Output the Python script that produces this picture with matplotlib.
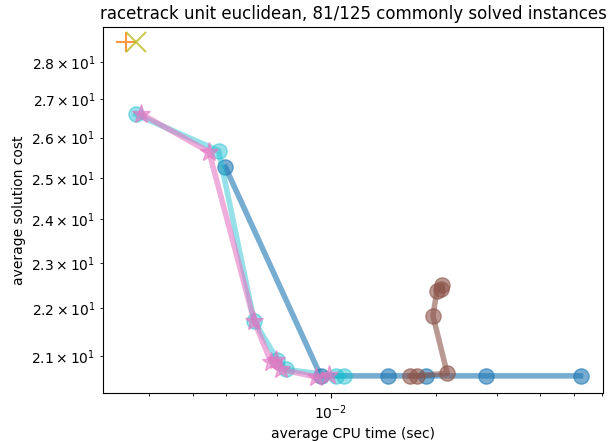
import matplotlib
matplotlib.use("Agg")
import matplotlib.pyplot as plt

title = "racetrack unit euclidean, 81/125 commonly solved instances"

# average CPU time (sec) / average solution cost for each solver setting
blue_t = [4.97e-3, 9.34e-3, 1.463e-2, 1.879e-2, 2.795e-2, 5.22e-2]
blue_c = [25.26, 20.59, 20.59, 20.59, 20.59, 20.59]

orange_t = [2.57e-3]
orange_c = [28.56]

brown_t = [2.071e-2, 2.092e-2, 2.017e-2, 1.964e-2, 2.159e-2, 1.766e-2, 1.687e-2]
brown_c = [22.42, 22.50, 22.38, 21.84, 20.64, 20.59, 20.59]

olive_t = [2.747e-3]
olive_c = [28.56]

cyan_t = [2.747e-3, 4.75e-3, 6.01e-3, 7.01e-3, 7.41e-3, 1.032e-2, 1.090e-2]
cyan_c = [26.60, 25.67, 21.73, 20.92, 20.72, 20.59, 20.59]

pink_t = [2.838e-3, 4.46e-3, 6.01e-3, 6.71e-3, 6.95e-3, 7.18e-3, 9.04e-3, 9.87e-3]
pink_c = [26.62, 25.64, 21.73, 20.88, 20.92, 20.72, 20.57, 20.60]

fig = plt.figure(figsize=(6.1, 4.41), dpi=100)
ax = fig.add_axes([0.169, 0.108, 0.82, 0.831])

ax.plot(blue_t, blue_c, color="tab:blue", marker="o", markersize=11, linewidth=4, alpha=0.6)
ax.plot(orange_t, orange_c, color="tab:orange", marker="+", markersize=15, mew=1.5, linewidth=4, alpha=0.8)
ax.plot(brown_t, brown_c, color="tab:brown", marker="o", markersize=11, linewidth=4, alpha=0.6)
ax.plot(olive_t, olive_c, color="tab:olive", marker="x", markersize=15, mew=1.5, linewidth=4, alpha=0.8)
ax.plot(cyan_t, cyan_c, color="tab:cyan", marker="o", markersize=11, linewidth=4, alpha=0.45)
ax.plot(pink_t, pink_c, color="tab:pink", marker="*", markersize=14, linewidth=4, alpha=0.6)

ax.set_xscale("log")
ax.set_yscale("log")
ax.set_ylim(20.24, 28.98)
ax.set_title(title)
ax.set_xlabel("average CPU time (sec)")
ax.set_ylabel("average solution cost")

fig.savefig("out.png", dpi=100)
